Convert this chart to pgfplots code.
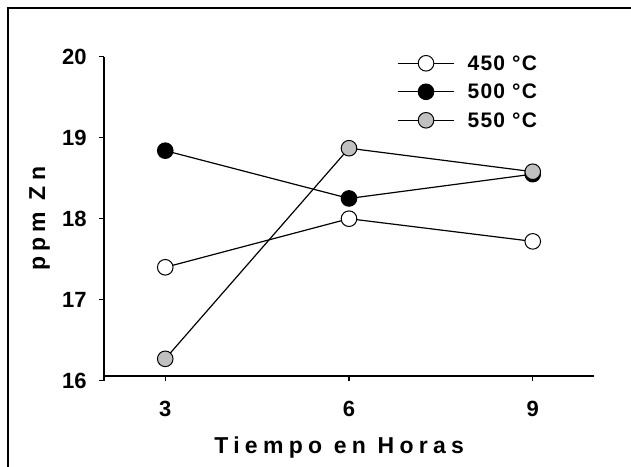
\documentclass[border=0pt]{standalone}
\usepackage{fontspec}
\setmainfont{Liberation Sans Bold}
\newfontfamily\labfont{Liberation Sans Bold}[LetterSpace=23]
\newfontfamily\legfont{Liberation Sans Bold}[LetterSpace=6]
\usepackage{pgfplots}
\pgfplotsset{compat=1.18}
\definecolor{grayfill}{RGB}{192,192,192}

\begin{document}
\begin{tikzpicture}
\useasboundingbox (0,0) rectangle (315.5pt,233pt);
\draw[line width=1pt] (4pt,-5pt) -- (4pt,229pt) -- (320pt,229pt);
\begin{axis}[
  at={(52pt,42.65pt)}, anchor=south west,
  scale only axis, width=245pt, height=162pt,
  xmin=2, xmax=10, ymin=16, ymax=20,
  xtick={3,6,9}, ytick={16,17,18,19,20},
  axis x line*=bottom, axis y line*=left,
  axis x line shift=-2.35pt,
  axis line style={line width=0.6pt, -},
  tick align=outside, major tick length=2.5pt,
  tick style={line width=0.6pt, black},
  /pgf/number format/assume math mode=true,
  tick label style={font=\fontsize{11}{13}\selectfont},
  yticklabel style={anchor=east, inner sep=0pt, xshift=-6pt},
  xticklabel style={anchor=north, inner sep=0pt, yshift=-10pt},
  xlabel={Tiempo en Horas}, ylabel={ppm Zn},
  label style={font=\fontsize{11.5}{13}\selectfont\labfont},
  xlabel style={at={(axis description cs:0.48,-0.2262)}, anchor=base},
  ylabel style={at={(axis description cs:-0.1204,0.5)}, anchor=base, rotate=0},
  legend style={at={(0.598,1.005)}, anchor=north west, draw=none, fill=none,
    inner sep=0pt, row sep=6.45pt, column sep=6.5pt,
    font=\fontsize{10.5}{12}\selectfont\legfont,
    nodes={inner sep=0pt, text height=7pt, text depth=0pt}},
  legend cell align=left,
  legend image code/.code={\draw[mark repeat=2,mark phase=2] plot coordinates {(0pt,0pt) (14pt,0pt) (28pt,0pt)};},
  every axis plot/.append style={black, line width=0.6pt, mark=*, mark size=3.9pt},
]
\addplot[mark options={draw=black, fill=white, line width=0.5pt}] coordinates {(3,17.40) (6,18.00) (9,17.72)};
\addlegendentry{450 °C}
\addplot[mark options={draw=black, fill=black, line width=0.5pt}] coordinates {(3,18.84) (6,18.25) (9,18.55)};
\addlegendentry{500 °C}
\addplot[mark options={draw=black, fill=grayfill, line width=0.5pt}] coordinates {(3,16.27) (6,18.87) (9,18.58)};
\addlegendentry{550 °C}
\end{axis}
\end{tikzpicture}
\end{document}
